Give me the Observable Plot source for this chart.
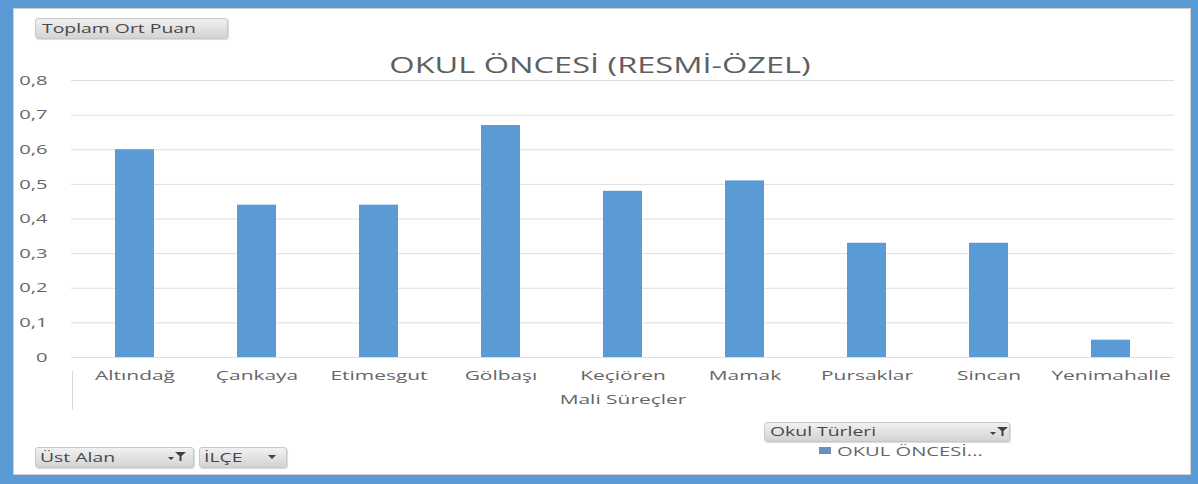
<!DOCTYPE html>
<html>
<head>
<meta charset="utf-8">
<script src="https://cdn.jsdelivr.net/npm/d3@7"></script>
<script src="https://cdn.jsdelivr.net/npm/@observablehq/plot@0.6"></script>
<style>
  html, body { margin: 0; padding: 0; background: #5B9BD5; }
  #frame { position: relative; width: 1198px; height: 484px; background: #5B9BD5; overflow: hidden; font-family: "Open Sans", sans-serif; }
  #inner { position: absolute; left: 13px; top: 8px; width: 1178px; height: 467px; background: #ffffff; box-sizing: border-box; border: 1px solid #cfcfcf; }
  #chart { position: absolute; left: 0; top: 0; }
  .t { position: absolute; white-space: nowrap; line-height: 1; color: #595959; }
  .btn { position: absolute; box-sizing: border-box; border-radius: 3px; background: linear-gradient(#f1f1f1, #d3d3d3); border: 1px solid #c8c8c8; box-shadow: 1px 1px 1px rgba(0,0,0,0.15); }
  .icon { position: absolute; }
  .divider { position: absolute; width: 1px; background: #d9d9d9; }
  .swatch { position: absolute; }
</style>
</head>
<body>
<div id="frame">
  <div id="inner"></div>
</div>
<script>
// ---- data ----
const districts = ["Altındağ", "Çankaya", "Etimesgut", "Gölbaşı", "Keçiören", "Mamak", "Pursaklar", "Sincan", "Yenimahalle"];
const scores = [0.60, 0.44, 0.44, 0.67, 0.48, 0.51, 0.33, 0.33, 0.05];
const yTicks = [0, 0.1, 0.2, 0.3, 0.4, 0.5, 0.6, 0.7, 0.8];
const chartTitle = "OKUL ÖNCESİ (RESMİ-ÖZEL)";
const xAxisTitle = "Mali Süreçler";
const valueField = "Toplam Ort Puan";
const filterFields = ["Üst Alan", "İLÇE"];
const legendField = "Okul Türleri";
const seriesName = "OKUL ÖNCESİ...";

// ---- settings ----
const S = 1.55; // horizontal stretch of glyphs
const barColor = "#5B9BD5";
const textColor = "#666666";

const frame = document.getElementById("frame");
const data = districts.map((d, i) => ({ district: d, score: scores[i] }));

const chart = Plot.plot({
  width: 1198,
  height: 484,
  marginLeft: 71,
  marginRight: 24,
  marginTop: 80,
  marginBottom: 127,
  style: { background: "transparent", fontFamily: "'Open Sans', sans-serif", color: textColor, overflow: "visible" },
  x: { domain: districts, paddingInner: 0.68, paddingOuter: 0.34, label: null },
  y: { domain: [0, 0.8], label: null },
  marks: [
    Plot.ruleY(yTicks, { stroke: "#dedede", strokeWidth: 1 }),
    Plot.barY(data, { x: "district", y: "score", fill: barColor }),
    Plot.axisX({ tickSize: 0, tickPadding: 13, fontSize: 13.5, label: null }),
    Plot.axisY({ ticks: yTicks, tickSize: 0, tickPadding: 24, fontSize: 13, label: null,
      tickFormat: d => d === 0 ? "0" : d.toFixed(1).replace(".", ",") })
  ]
});
chart.id = "chart";
frame.appendChild(chart);

// stretch text horizontally around its anchor point
chart.querySelectorAll("text").forEach(t => {
  const tr = t.getAttribute("transform");
  if (tr) {
    t.setAttribute("transform", tr + ` scale(${S},1)`);
  } else {
    const x = +(t.getAttribute("x") || 0);
    t.setAttribute("transform", `translate(${x},0) scale(${S},1) translate(${-x},0)`);
  }
});

function addText(str, x, y, size, anchor = "middle", color = textColor) {
  const el = document.createElement("div");
  el.className = "t";
  el.textContent = str;
  el.style.fontSize = size + "px";
  el.style.left = x + "px";
  el.style.top = y + "px";
  el.style.color = color;
  const tx = anchor === "middle" ? "-50%" : anchor === "end" ? "-100%" : "0";
  el.style.transformOrigin = anchor === "middle" ? "50% 50%" : anchor === "end" ? "100% 50%" : "0 50%";
  el.style.transform = `translate(${tx},-50%) scaleX(${S})`;
  frame.appendChild(el);
  return el;
}
function addBox(cls, left, top, width, height) {
  const el = document.createElement("div");
  el.className = cls;
  el.style.left = left + "px";
  el.style.top = top + "px";
  el.style.width = width + "px";
  el.style.height = height + "px";
  frame.appendChild(el);
  return el;
}
function addIcon(kind, left, top) {
  const ns = "http://www.w3.org/2000/svg";
  const svg = document.createElementNS(ns, "svg");
  svg.setAttribute("class", "icon");
  svg.setAttribute("width", 22);
  svg.setAttribute("height", 12);
  svg.style.left = left + "px";
  svg.style.top = top + "px";
  const p = document.createElementNS(ns, "path");
  if (kind === "filter") {
    p.setAttribute("d", "M2 6 L8 6 L5 9 Z M9 1 L20 1 L15.5 5 L15.5 10 L13.5 10 L13.5 5 Z");
  } else {
    p.setAttribute("d", "M6 4 L14 4 L10 8 Z");
  }
  p.setAttribute("fill", "#404040");
  svg.appendChild(p);
  frame.appendChild(svg);
}

// title and axis title
addText(chartTitle, 600, 65, 21, "middle", "#5f5f5f");
addText(xAxisTitle, 623, 400, 13.5, "middle");

// pivot category divider
addBox("divider", 72, 371, 1, 39);

// value field button
addBox("btn", 35, 18, 193, 21);
addText(valueField, 42, 29, 12.5, "start", "#484848");

// filter buttons (bottom left)
addBox("btn", 35, 447, 159, 21);
addText(filterFields[0], 40, 458, 12.5, "start", "#484848");
addIcon("filter", 166, 451);
addBox("btn", 199, 447, 88, 21);
addText(filterFields[1], 204, 458, 12.5, "start", "#484848");
addIcon("arrow", 262, 451);

// legend field button
addBox("btn", 764, 422, 246, 20);
addText(legendField, 770, 432, 12.5, "start", "#484848");
addIcon("filter", 988, 426);

// legend entry
const sw = addBox("swatch", 819, 447, 12, 7);
sw.style.background = "#6c8fbd";
addText(seriesName, 837, 451, 13, "start");
</script>
</body>
</html>
